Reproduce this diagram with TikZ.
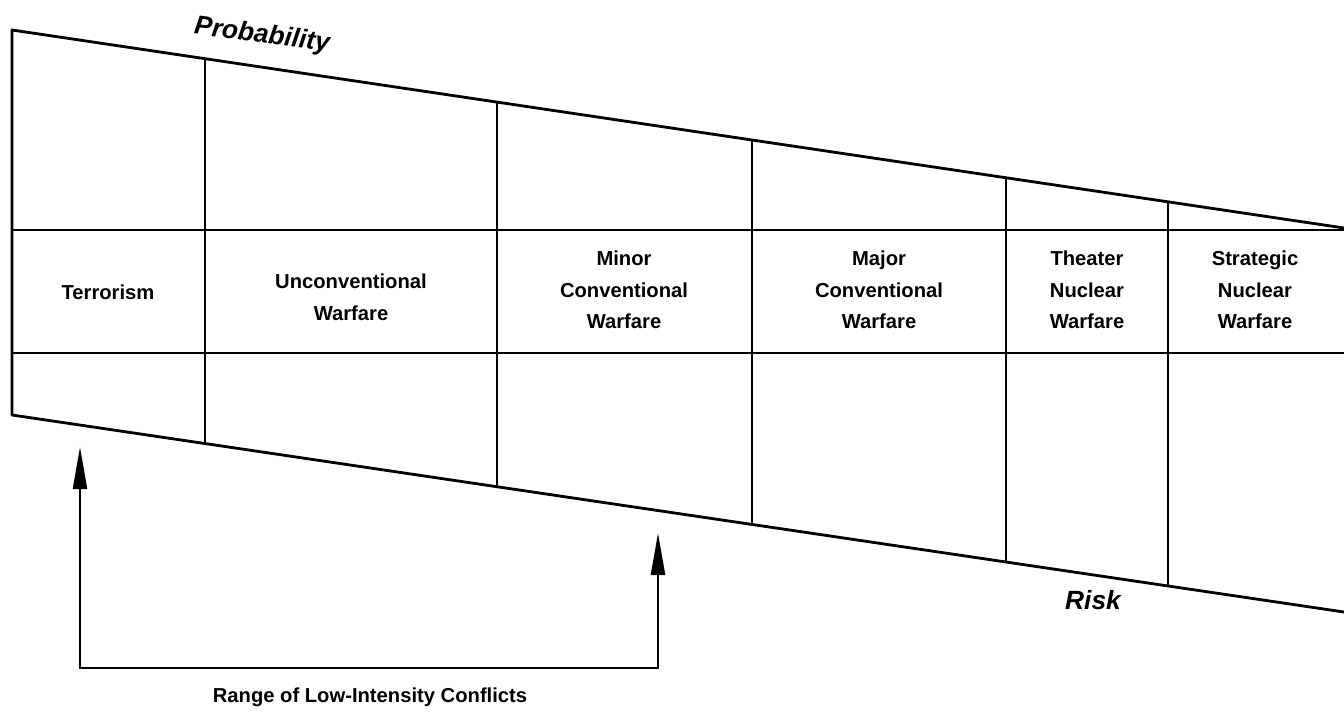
\documentclass[tikz,border=0pt]{standalone}
\usepackage{fontspec}
\setmainfont{Liberation Sans}
\usepackage{tikz}
\usetikzlibrary{arrows.meta,calc}

\begin{document}
\begin{tikzpicture}[
  x=0.02cm, y=-0.02cm,
  frame/.style={line width=1.6pt, line join=round},
  grid/.style={line width=1.3pt},
  cell/.style={align=center, inner sep=0pt, font=\fontsize{11.5}{18}\selectfont\bfseries},
  axislabel/.style={inner sep=0pt, font=\fontsize{15}{18}\selectfont\bfseries\itshape},
  arr/.style={{Triangle[length=24pt, width=8pt]}-{Triangle[length=24pt, width=8pt]}, line width=1.4pt, line join=miter}
]
\useasboundingbox (0,0) rectangle (1344,713);

% Frame
\coordinate (tl) at (12,30);
\coordinate (tr) at (1344,228);
\coordinate (bl) at (12,415);
\coordinate (br) at (1344,612);
\draw[frame] (tr) -- (tl) -- (bl) -- (br);

% Rows
\draw[grid] (12,230) -- (1344,230);
\draw[grid] (12,353) -- (1344,353);

% Columns
\foreach \x/\n in {205/1, 497/2, 752/3, 1006/4, 1168/5} {
  \coordinate (t\n) at ($(tl)!{(\x-12)/1332}!(tr)$);
  \coordinate (b\n) at ($(bl)!{(\x-12)/1332}!(br)$);
  \draw[grid] (t\n) -- (b\n);
}

% Cells
\node[cell] (terror) at (108,292) {Terrorism};
\node[cell] (unconv) at (351,297) {Unconventional\\Warfare};
\node[cell] (minor) at (624,290) {Minor\\Conventional\\Warfare};
\node[cell] (major) at (879,290) {Major\\Conventional\\Warfare};
\node[cell] (theater) at (1087,290) {Theater\\Nuclear\\Warfare};
\node[cell] (strat) at (1255,290) {Strategic\\Nuclear\\Warfare};

% Axis labels
\node[axislabel, rotate=-7.5] (prob) at (262,36) {Probability};
\node[axislabel] (risk) at (1093,600) {Risk};

% Range bracket
\coordinate (lotip) at (80,447);
\coordinate (locorner) at (80,668);
\coordinate (hicorner) at (658,668);
\coordinate (hitip) at (658,533);
\draw[arr] (lotip) -- (locorner) -- (hicorner) -- (hitip);
\node[cell] (range) at (370,697) {Range of Low-Intensity Conflicts};

\end{tikzpicture}
\end{document}
